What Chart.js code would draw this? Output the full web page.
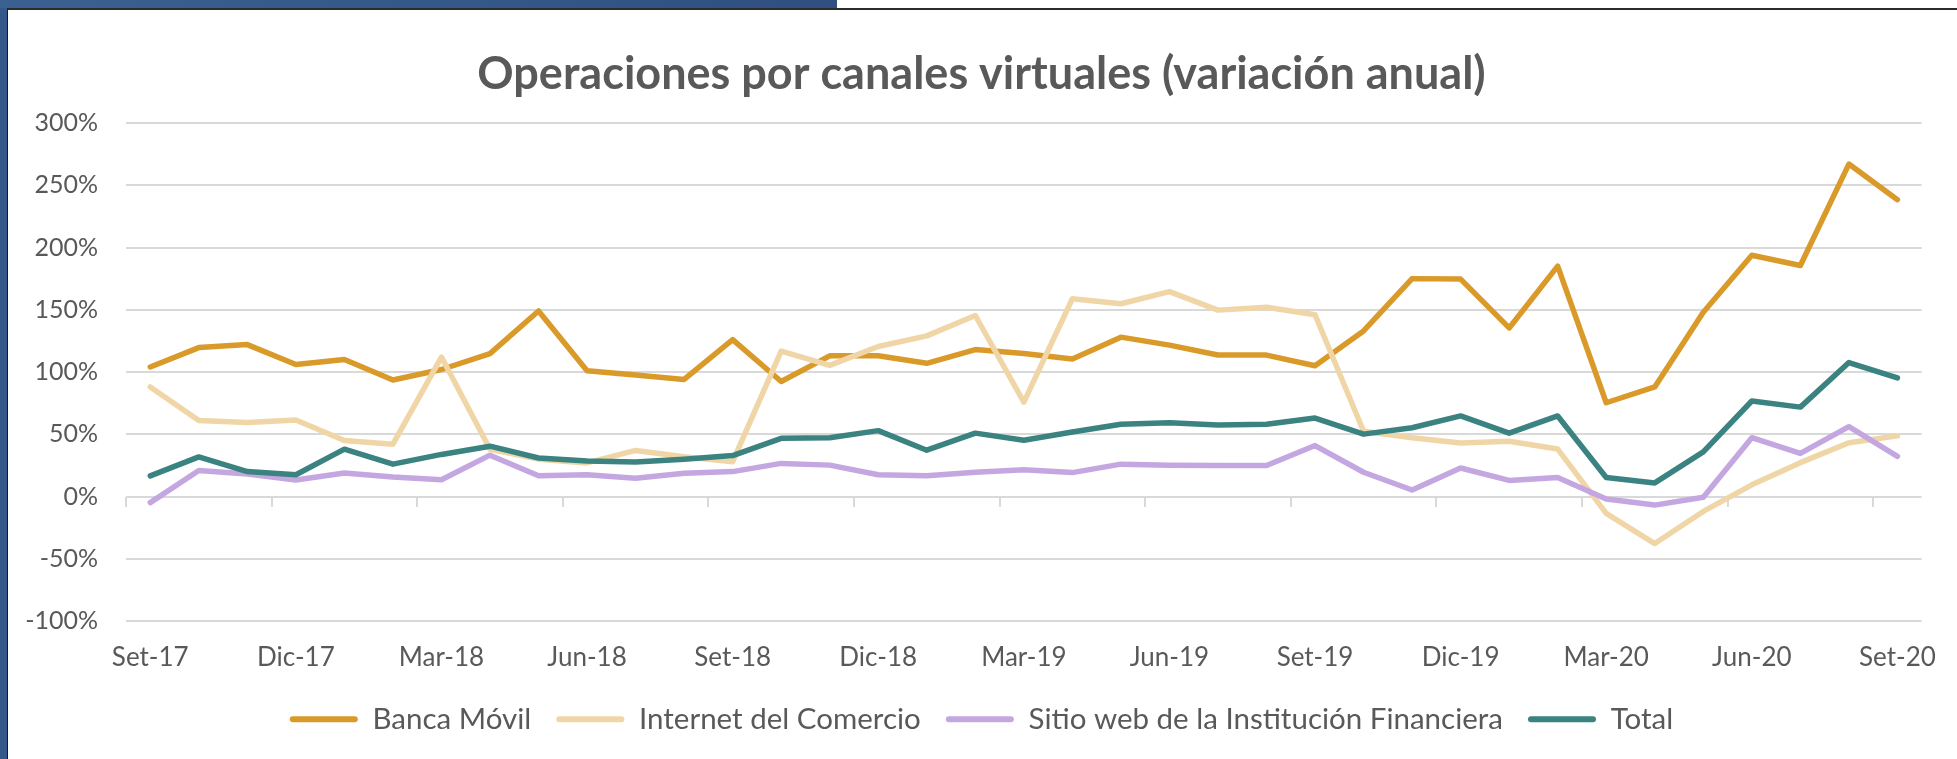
<!DOCTYPE html>
<html lang="es">
<head>
    <meta charset="UTF-8">
    <title>Operaciones por canales virtuales</title>
    <script src="https://cdn.jsdelivr.net/npm/chart.js"></script>
    <style>
        html, body {
            margin: 0;
            padding: 0;
            background: #fff;
            width: 1957px;
            height: 759px;
            overflow: hidden;
            position: relative;
        }
        .blue-left {
            position: absolute;
            left: 0; top: 0;
            width: 7px; height: 759px;
            background: #33598a;
        }
        .blue-top {
            position: absolute;
            left: 0; top: 0;
            width: 837px; height: 8px;
            background: linear-gradient(90deg, #3a6191, #2f5080);
        }
        #frame {
            position: absolute;
            left: 7px; top: 8px;
            width: 1950px; height: 751px;
            border-top: 2px solid #2b2b2b;
            border-left: 1px solid #1a1a1a;
            box-sizing: border-box;
            background: #fff;
        }
        canvas { display: block; }
    </style>
</head>
<body>
    <div class="blue-left"></div>
    <div class="blue-top"></div>
    <div id="frame">
        <canvas id="chart" width="1949" height="749"></canvas>
    </div>

    <script>
        // meses (Set-17 a Set-20)
        const meses = [
            'Set-17', 'Oct-17', 'Nov-17', 'Dic-17', 'Ene-18', 'Feb-18', 'Mar-18', 'Abr-18', 'May-18', 'Jun-18', 'Jul-18', 'Ago-18',
            'Set-18', 'Oct-18', 'Nov-18', 'Dic-18', 'Ene-19', 'Feb-19', 'Mar-19', 'Abr-19', 'May-19', 'Jun-19', 'Jul-19', 'Ago-19',
            'Set-19', 'Oct-19', 'Nov-19', 'Dic-19', 'Ene-20', 'Feb-20', 'Mar-20', 'Abr-20', 'May-20', 'Jun-20', 'Jul-20', 'Ago-20',
            'Set-20'
        ];

        // variación anual (%)
        const bancaMovil = [104, 119.6, 122, 106, 110, 93.6, 102, 114.8, 149, 101, 97.6, 94,
            126, 92.4, 113, 113, 107, 118, 114.8, 110.5, 128, 121.6, 113.6, 113.6,
            105, 133, 175, 174.6, 135.4, 185, 75.3, 88, 148, 193.8, 185.5, 267, 238.4];
        const internetComercio = [88, 61, 59.5, 61.5, 45, 42, 112, 38, 30, 27, 37, 32,
            28, 116.8, 105.3, 120.5, 129, 145.4, 75.8, 158.8, 154.8, 164.6, 149.7, 152,
            146, 52.4, 47.2, 42.9, 44.4, 38.1, -13.5, -37.8, -12, 9.4, 27.2, 43.2, 48.7];
        const sitioWeb = [-4.9, 20.9, 18, 13.2, 18.9, 15.7, 13.5, 33.2, 16.6, 17.5, 14.6, 18.6,
            20, 26.6, 25.2, 17.5, 16.6, 19.5, 21.5, 19.2, 26, 25.2, 24.9, 24.9,
            40.9, 19.5, 5.2, 22.9, 12.9, 15.2, -2, -6.9, -0.6, 47.2, 34.6, 56.1, 32.3];
        const total = [16.6, 31.8, 20, 17.5, 38, 26, 33.8, 40.4, 30.9, 28.6, 27.8, 30,
            32.9, 46.7, 47.2, 52.9, 37.2, 50.9, 45.2, 51.8, 58.1, 59.2, 57.5, 58.1,
            63, 50.1, 55.2, 64.7, 50.9, 64.7, 15.2, 10.9, 35.8, 76.7, 71.8, 107.6, 95.3];

        const yMin = -100;
        const yMax = 300;
        const yStep = 50;

        const textColor = '#595959';
        const gridColor = '#d9d9d9';
        Chart.defaults.font.family = 'Lato, "Open Sans", sans-serif';

        function serie(label, data, color, order) {
            return {
                label: label,
                data: data,
                borderColor: color,
                backgroundColor: color,
                borderWidth: 5.5,
                pointRadius: 0,
                tension: 0,
                borderJoinStyle: 'round',
                borderCapStyle: 'round',
                order: order
            };
        }

        const ctx = document.getElementById('chart').getContext('2d');
        const chart = new Chart(ctx, {
            type: 'line',
            data: {
                labels: meses,
                datasets: [
                    serie('Banca Móvil', bancaMovil, '#da9a2a', 4),
                    serie('Internet del Comercio', internetComercio, '#f0d6a6', 3),
                    serie('Sitio web de la Institución Financiera', sitioWeb, '#c4a7e0', 2),
                    serie('Total', total, '#3a8380', 1)
                ]
            },
            options: {
                responsive: false,
                animation: false,
                layout: {
                    padding: { top: 0, left: 12, right: 14, bottom: 15 }
                },
                plugins: {
                    title: {
                        display: true,
                        text: 'Operaciones por canales virtuales (variación anual)',
                        color: textColor,
                        font: { size: 45, weight: 'bold' },
                        padding: { top: 37, bottom: 22 }
                    },
                    legend: {
                        position: 'bottom',
                        labels: {
                            color: textColor,
                            font: { size: 29.5 },
                            boxWidth: 68,
                            boxHeight: 6,
                            useBorderRadius: true,
                            borderRadius: 3,
                            padding: 25,
                            sort: (a, b) => a.datasetIndex - b.datasetIndex,
                            generateLabels: (c) => {
                                const items = Chart.defaults.plugins.legend.labels.generateLabels(c);
                                return items.map(it => {
                                    it.fillStyle = it.strokeStyle;
                                    it.lineWidth = 0;
                                    return it;
                                });
                            }
                        }
                    },
                    tooltip: { enabled: false }
                },
                scales: {
                    x: {
                        type: 'category',
                        offset: true,
                        grid: { display: false, drawTicks: false },
                        border: { display: false },
                        ticks: {
                            autoSkip: false,
                            maxRotation: 0,
                            minRotation: 0,
                            padding: 21,
                            color: textColor,
                            font: { size: 26 },
                            callback: function (value, index) {
                                return index % 3 === 0 ? meses[index] : '';
                            }
                        },
                        afterFit: (scale) => { scale.height = 58.5; }
                    },
                    // marcas del eje horizontal sobre la línea de 0%
                    xMarcas: {
                        type: 'category',
                        labels: meses,
                        offset: true,
                        position: { y: 0 },
                        grid: {
                            offset: true,
                            drawOnChartArea: false,
                            drawTicks: true,
                            tickLength: 10,
                            lineWidth: 2,
                            color: (c) => (c.index !== undefined && c.index % 3 === 0) ? gridColor : 'rgba(0,0,0,0)'
                        },
                        border: { display: false },
                        ticks: { display: false, autoSkip: false },
                        afterFit: (scale) => { scale.height = 0; }
                    },
                    y: {
                        min: yMin,
                        max: yMax,
                        grid: {
                            color: gridColor,
                            lineWidth: 2,
                            drawTicks: false
                        },
                        border: { display: false },
                        ticks: {
                            stepSize: yStep,
                            padding: 28,
                            color: textColor,
                            font: { size: 25 },
                            callback: (v) => v + '%'
                        },
                        afterFit: (scale) => { scale.width = 106; }
                    }
                }
            }
        });
    </script>
</body>
</html>
